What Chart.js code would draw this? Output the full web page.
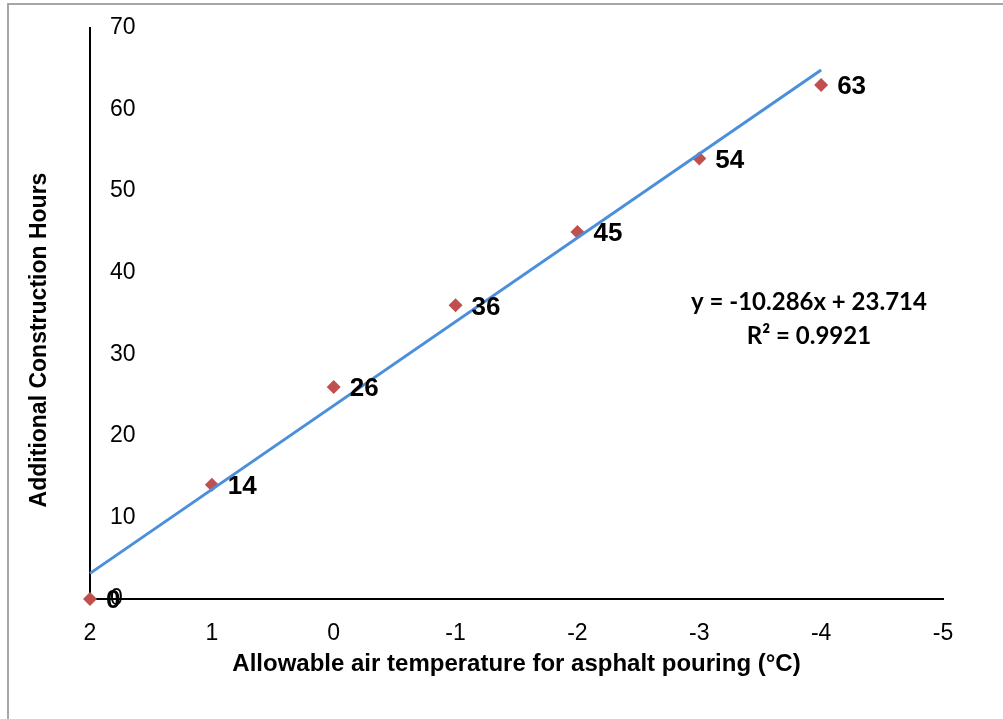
<!DOCTYPE html>
<html>
<head>
<meta charset="utf-8">
<script src="https://cdn.jsdelivr.net/npm/chart.js@4/dist/chart.umd.min.js"></script>
<style>
  html, body { margin: 0; padding: 0; background: #fff; }
  #wrap { width: 1003px; height: 719px; }
</style>
</head>
<body>
<div id="wrap"><canvas id="chart" width="1003" height="719"></canvas></div>
<script>
// values
const temps = [2, 1, 0, -1, -2, -3, -4];
const hours = [0, 14, 26, 36, 45, 54, 63];

// trendline as printed on the chart
const slope = -10.286;
const intercept = 23.714;
const trendX = [2, -4];
const eqLines = ['y = -10.286x + 23.714', 'R\u00B2 = 0.9921'];

const xTitle = 'Allowable air temperature for asphalt pouring (\u00B0C)';
const yTitle = 'Additional Construction Hours';

const points = temps.map((t, i) => ({ x: t, y: hours[i] }));
const trend = trendX.map(t => ({ x: t, y: slope * t + intercept }));

const sans = 'Arial, "Liberation Sans", sans-serif';

const extras = {
  id: 'extras',
  beforeDraw(chart) {
    const c = chart.ctx;
    c.save();
    c.fillStyle = '#fff';
    c.fillRect(0, 0, chart.width, chart.height);
    c.strokeStyle = '#a6a6a6';
    c.lineWidth = 2;
    c.beginPath();
    c.moveTo(8, chart.height);
    c.lineTo(8, 4);
    c.lineTo(chart.width, 4);
    c.stroke();
    c.restore();
  },
  afterDatasetsDraw(chart) {
    const c = chart.ctx;
    const meta = chart.getDatasetMeta(1);
    c.save();
    c.fillStyle = '#000';
    c.font = 'bold 26px ' + sans;
    c.textAlign = 'left';
    c.textBaseline = 'middle';
    meta.data.forEach((el, i) => {
      c.fillText(String(hours[i]), el.x + 16, el.y + 2);
    });
    // equation text
    const xs = chart.scales.x, ys = chart.scales.y;
    c.font = 'bold 24px Lato, "Open Sans", sans-serif';
    c.textAlign = 'center';
    const cx = xs.getPixelForValue(-3.9);
    c.fillText(eqLines[0], cx, ys.getPixelForValue(36.35));
    c.fillText(eqLines[1], cx, ys.getPixelForValue(32.2));
    // y axis title
    c.font = 'bold 23px ' + sans;
    c.translate(40, 340);
    c.rotate(-Math.PI / 2);
    c.fillText(yTitle, 0, 0);
    c.restore();
  }
};

new Chart(document.getElementById('chart'), {
  type: 'scatter',
  data: {
    datasets: [{
      type: 'line',
      data: trend,
      borderColor: '#4a8fdc',
      borderWidth: 3,
      pointRadius: 0,
      fill: false,
      clip: false
    }, {
      data: points,
      pointStyle: 'rectRot',
      pointRadius: 7,
      backgroundColor: '#c0504d',
      borderColor: '#c0504d',
      borderWidth: 0,
      clip: false
    }]
  },
  options: {
    responsive: false,
    animation: false,
    layout: { padding: { top: 28, right: 60, left: 0, bottom: 0 } },
    plugins: { legend: { display: false }, tooltip: { enabled: false } },
    scales: {
      x: {
        type: 'linear',
        reverse: true,
        min: -5,
        max: 2,
        ticks: {
          stepSize: 1,
          padding: 21,
          color: '#000',
          font: { family: sans, size: 23 }
        },
        grid: { display: false, drawTicks: false },
        border: { color: '#000', width: 2 },
        title: {
          display: true,
          text: xTitle,
          color: '#000',
          font: { family: sans, size: 24, weight: 'bold' },
          padding: { top: 0, bottom: 40 }
        },
        afterFit(scale) { scale.height = 120; scale.paddingLeft = 0; scale.paddingRight = 0; }
      },
      y: {
        min: 0,
        max: 70,
        ticks: {
          stepSize: 10,
          mirror: true,
          padding: 20,
          color: '#000',
          font: { family: sans, size: 23 }
        },
        grid: { display: false, drawTicks: false },
        border: { color: '#000', width: 2 },
        afterFit(scale) { scale.width = 90; scale.paddingTop = 0; scale.paddingBottom = 0; }
      }
    }
  },
  plugins: [extras]
});
</script>
</body>
</html>
